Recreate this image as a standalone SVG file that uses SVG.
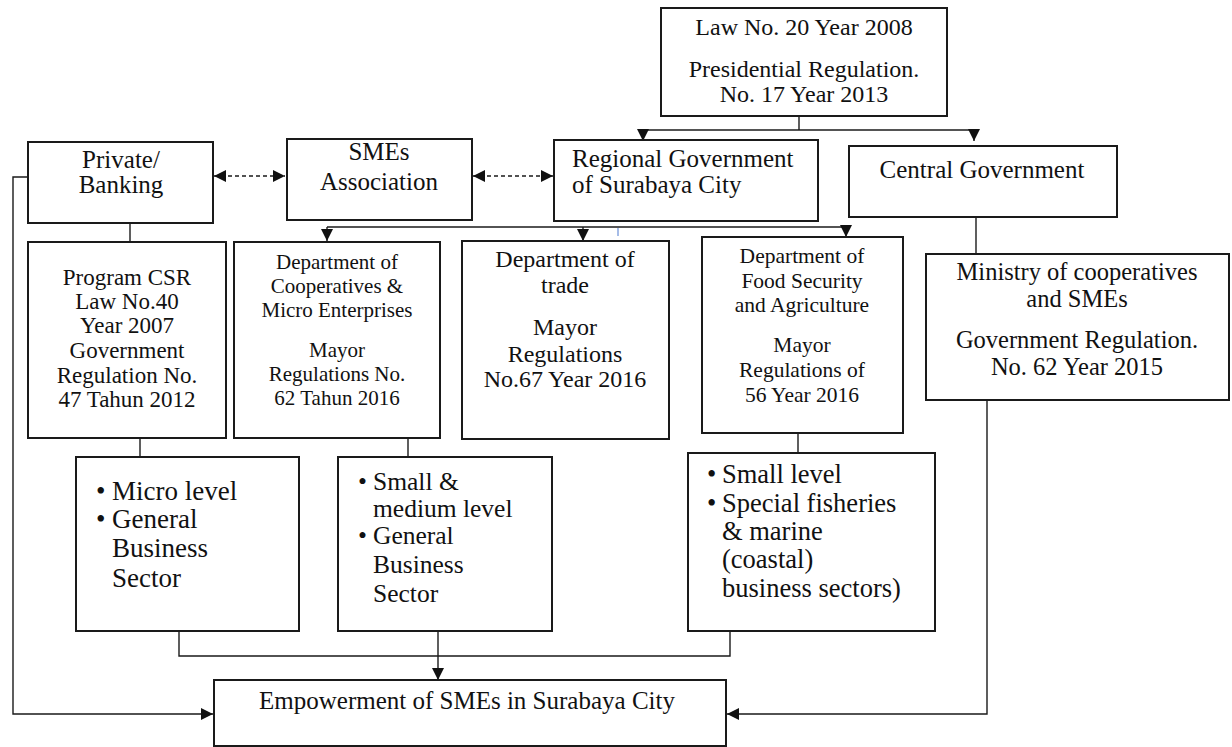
<svg xmlns="http://www.w3.org/2000/svg" width="1232" height="747" viewBox="0 0 1232 747">
<style>
.box{fill:#fff;stroke:#1a1a1a;stroke-width:2}
.t{font-family:"Liberation Serif","Times New Roman",serif;fill:#111;text-anchor:middle}
.l{font-family:"Liberation Serif","Times New Roman",serif;fill:#111;text-anchor:start}
.c{fill:none;stroke:#1a1a1a;stroke-width:1.4}
.d{fill:none;stroke:#1a1a1a;stroke-width:1.4;stroke-dasharray:4 3}
</style>
<defs>
<marker id="ah" markerUnits="userSpaceOnUse" markerWidth="12" markerHeight="12" refX="12" refY="6" orient="auto-start-reverse" viewBox="0 0 12 12">
<path d="M0,0 L12,6 L0,12 z" fill="#111"/>
</marker>
</defs>
<rect width="1232" height="747" fill="#fff"/>

<g id="connectors">
<path class="c" d="M799,116 V130"/>
<path class="c" d="M643,130 H974"/>
<path class="c" d="M643,130 V141" marker-end="url(#ah)"/>
<path class="c" d="M974,130 V141" marker-end="url(#ah)"/>
<path class="d" d="M214,176 H285" marker-start="url(#ah)" marker-end="url(#ah)"/>
<path class="d" d="M473,176 H553" marker-start="url(#ah)" marker-end="url(#ah)"/>
<path class="c" d="M327,227 H846"/>
<path class="c" d="M327,227 V241" marker-end="url(#ah)"/>
<path class="c" d="M583,227 V241" marker-end="url(#ah)"/>
<path class="c" d="M846,227 V237" marker-end="url(#ah)"/>
<path d="M618,228 V236" stroke="#6a8fd8" stroke-width="1.2"/>
<path class="c" d="M130,223 V242"/>
<path class="c" d="M976,217 V254"/>
<path class="c" d="M140,438 V457"/>
<path class="c" d="M408,438 V457"/>
<path class="c" d="M798,433 V453"/>
<path class="c" d="M179,631 V656 H730 V631"/>
<path class="c" d="M438,631 V680" marker-end="url(#ah)"/>
<path class="c" d="M28,177 H13 V714 H213" marker-end="url(#ah)"/>
<path class="c" d="M987,390 V714 H727" marker-end="url(#ah)"/>
</g>

<g id="law">
<rect class="box" x="661" y="8" width="286" height="108"/>
<text class="t" font-size="24" x="804" y="35">Law No. 20 Year 2008</text>
<text class="t" font-size="24" x="804" y="77">Presidential Regulation.</text>
<text class="t" font-size="24" x="804" y="102">No. 17 Year 2013</text>
</g>

<g id="private">
<rect class="box" x="28" y="142" width="185" height="81"/>
<text class="t" font-size="25" x="121" y="168">Private/</text>
<text class="t" font-size="25" x="121" y="193">Banking</text>
</g>

<g id="smes">
<rect class="box" x="287" y="139" width="185" height="81"/>
<text class="t" font-size="25" x="379" y="160">SMEs</text>
<text class="t" font-size="25" x="379" y="190">Association</text>
</g>

<g id="regional">
<rect class="box" x="554" y="140" width="264" height="81"/>
<text class="l" font-size="25" x="572" y="167">Regional Government</text>
<text class="l" font-size="25" x="572" y="193">of Surabaya City</text>
</g>

<g id="central">
<rect class="box" x="849" y="146" width="268" height="71"/>
<text class="t" font-size="25" x="982" y="178">Central Government</text>
</g>

<g id="csr">
<rect class="box" x="28" y="242" width="198" height="196"/>
<text class="t" font-size="23" x="127" y="285">Program CSR</text>
<text class="t" font-size="23" x="127" y="309">Law No.40</text>
<text class="t" font-size="23" x="127" y="333">Year 2007</text>
<text class="t" font-size="23" x="127" y="358">Government</text>
<text class="t" font-size="23" x="127" y="383">Regulation No.</text>
<text class="t" font-size="23" x="127" y="407">47 Tahun 2012</text>
</g>

<g id="coop">
<rect class="box" x="234" y="242" width="206" height="196"/>
<text class="t" font-size="21" x="337" y="269">Department of</text>
<text class="t" font-size="21" x="337" y="293">Cooperatives &amp;</text>
<text class="t" font-size="21" x="337" y="317">Micro Enterprises</text>
<text class="t" font-size="21" x="337" y="357">Mayor</text>
<text class="t" font-size="21" x="337" y="381">Regulations No.</text>
<text class="t" font-size="21" x="337" y="405">62 Tahun 2016</text>
</g>

<g id="trade">
<rect class="box" x="462" y="241" width="207" height="198"/>
<text class="t" font-size="24" x="565" y="267">Department of</text>
<text class="t" font-size="24" x="565" y="293">trade</text>
<text class="t" font-size="24" x="565" y="335">Mayor</text>
<text class="t" font-size="24" x="565" y="362">Regulations</text>
<text class="t" font-size="24" x="565" y="387">No.67 Year 2016</text>
</g>

<g id="food">
<rect class="box" x="702" y="237" width="201" height="196"/>
<text class="t" font-size="21.5" x="802" y="263">Department of</text>
<text class="t" font-size="21.5" x="802" y="288">Food Security</text>
<text class="t" font-size="21.5" x="802" y="312">and Agriculture</text>
<text class="t" font-size="21.5" x="802" y="352">Mayor</text>
<text class="t" font-size="21.5" x="802" y="377">Regulations of</text>
<text class="t" font-size="21.5" x="802" y="402">56 Year 2016</text>
</g>

<g id="ministry">
<rect class="box" x="926" y="254" width="303" height="146"/>
<text class="t" font-size="24.5" x="1077" y="280">Ministry of cooperatives</text>
<text class="t" font-size="24.5" x="1077" y="307">and SMEs</text>
<text class="t" font-size="24.5" x="1077" y="348">Government Regulation.</text>
<text class="t" font-size="24.5" x="1077" y="375">No. 62 Year 2015</text>
</g>

<g id="micro">
<rect class="box" x="76" y="457" width="223" height="174"/>
<text class="l" font-size="27" x="96" y="500">•</text>
<text class="l" font-size="27" x="96" y="528">•</text>
<text class="l" font-size="27" x="112" y="500">Micro level</text>
<text class="l" font-size="27" x="112" y="528">General</text>
<text class="l" font-size="27" x="112" y="557">Business</text>
<text class="l" font-size="27" x="112" y="587">Sector</text>
</g>

<g id="small">
<rect class="box" x="338" y="457" width="214" height="174"/>
<text class="l" font-size="25.5" x="358" y="490">•</text>
<text class="l" font-size="25.5" x="358" y="544">•</text>
<text class="l" font-size="25.5" x="373" y="490">Small &amp;</text>
<text class="l" font-size="25.5" x="373" y="517">medium level</text>
<text class="l" font-size="25.5" x="373" y="544">General</text>
<text class="l" font-size="25.5" x="373" y="573">Business</text>
<text class="l" font-size="25.5" x="373" y="602">Sector</text>
</g>

<g id="fisheries">
<rect class="box" x="688" y="453" width="247" height="178"/>
<text class="l" font-size="26.5" x="707" y="483">•</text>
<text class="l" font-size="26.5" x="707" y="512">•</text>
<text class="l" font-size="26.5" x="722" y="483">Small level</text>
<text class="l" font-size="26.5" x="722" y="512">Special fisheries</text>
<text class="l" font-size="26.5" x="722" y="540">&amp; marine</text>
<text class="l" font-size="26.5" x="722" y="568">(coastal)</text>
<text class="l" font-size="26.5" x="722" y="597">business sectors)</text>
</g>

<g id="empowerment">
<rect class="box" x="214" y="680" width="512" height="66"/>
<text class="t" font-size="25" x="467" y="709">Empowerment of SMEs in Surabaya City</text>
</g>
</svg>
